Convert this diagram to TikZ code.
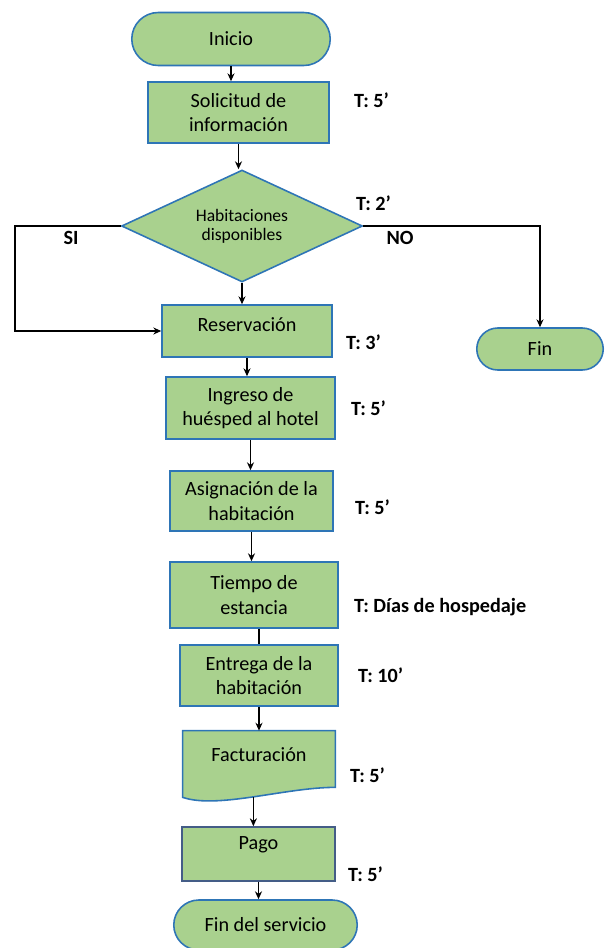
\documentclass[tikz,border=0pt]{standalone}
\usepackage{fontspec}
\setmainfont{Carlito}
\usetikzlibrary{arrows.meta, shapes.geometric, shapes.misc, backgrounds, positioning}
\definecolor{box_green}{RGB}{169,209,142}
\definecolor{box_blue}{RGB}{46,117,182}
\definecolor{pago_blue}{RGB}{68,93,135}

\begin{document}
\begin{tikzpicture}[x=0.02cm, y=-0.02cm, >={Stealth[length=4.5pt, width=4pt]},
    every node/.style={font=\fontsize{11.5}{14}\selectfont, align=center, inner sep=1pt},
    proc/.style={rectangle, draw=box_blue, fill=box_green, line width=0.9pt},
    term/.style={rounded rectangle, draw=box_blue, fill=box_green, line width=0.9pt},
    decis/.style={diamond, aspect=2.15, draw=box_blue, fill=box_green, line width=0.9pt, inner sep=0pt, font=\fontsize{10}{11}\selectfont},
    tlabel/.style={anchor=west, font=\bfseries\fontsize{11.5}{14}\selectfont},
    flow/.style={->, line width=0.8pt}]
      \useasboundingbox (0,0) rectangle (605,948);
      \clip (0,0) rectangle (605,948);
      \node[term, minimum width=4.04cm, minimum height=1.06cm] (ini) at (231,39) {Inicio};
      \node[proc, minimum width=3.62cm, minimum height=1.22cm] (sol) at (238.5,112.5) {Solicitud de\\información};
      \node[decis, minimum width=4.82cm, minimum height=2.24cm] (disp) at (242,226) {Habitaciones\\disponibles};
      \node[proc, minimum width=3.4cm, minimum height=1.04cm, text depth=7pt] (res) at (247,331) {Reservación};
      \node[term, minimum width=2.6cm, minimum height=0.84cm] (fin) at (540,349) {Fin};
      \node[proc, minimum width=3.38cm, minimum height=1.24cm] (ing) at (250.5,408) {Ingreso de\\huésped al hotel};
      \node[proc, minimum width=3.26cm, minimum height=1.2cm] (asig) at (251.5,501) {Asignación de la\\habitación};
      \node[proc, minimum width=3.36cm, minimum height=1.32cm] (est) at (254,595) {Tiempo de\\estancia};
      \node[proc, minimum width=3.16cm, minimum height=1.22cm] (ent) at (259,675.5) {Entrega de la\\habitación};
      \node[minimum width=3.04cm, minimum height=1.12cm, text depth=5pt] (fact) at (259,759) {Facturación};
      \node[proc, draw=pago_blue, minimum width=3.06cm, minimum height=1.08cm, text depth=12pt] (pago) at (258.5,854) {Pago};
      \node[term, minimum width=3.74cm, minimum height=1.0cm] (finserv) at (265.5,925) {Fin del servicio};
      % document shape behind the text
      \begin{pgfonlayer}{background}
        \draw[draw=box_blue, fill=box_green, line width=0.9pt] (fact.north west) -- (fact.north east) -- (fact.south east)
          .. controls +(-50,0) and +(35,12) .. ([yshift=-0.2cm]fact.south west) coordinate[pos=0.5] (factbot) -- cycle;
      \end{pgfonlayer}
      \coordinate (siturn) at (15,226);
      \draw[flow] (ini.south) -- (ini.south |- sol.north);
      \draw[flow] (sol.south) -- (sol.south |- disp.north);
      \draw[flow] (disp.south) -- (disp.south |- res.north);
      \draw[flow] (disp.west) -- (siturn) |- (res.west);
      \draw[flow] (disp.east) -| (fin.north);
      \draw[flow] (res.south) -- (res.south |- ing.north);
      \draw[flow] (ing.south) -- (ing.south |- asig.north);
      \draw[flow] (asig.south) -- (asig.south |- est.north);
      \draw[line width=0.8pt] (ent.north |- est.south) -- (ent.north);
      \draw[flow] (ent.south) -- (ent.south |- fact.north);
      \draw[flow] (factbot) -- (factbot |- pago.north);
      \draw[flow] (pago.south) -- (pago.south |- finserv.north);
      \node[tlabel] (t_sol) at (352,100) {T: 5’};
      \node[tlabel] (t_disp) at (354,203) {T: 2’};
      \node[tlabel] (t_res) at (344,342) {T: 3’};
      \node[tlabel] (t_ing) at (349,408) {T: 5’};
      \node[tlabel] (t_asig) at (353,507) {T: 5’};
      \node[tlabel] (t_est) at (352,607) {T: Días de hospedaje};
      \node[tlabel] (t_ent) at (356,675) {T: 10’};
      \node[tlabel] (t_fact) at (348,775) {T: 5’};
      \node[tlabel] (t_pago) at (346,874) {T: 5’};
      \node[font=\bfseries\fontsize{11.5}{14}\selectfont] (si) at (71,238) {SI};
      \node[font=\bfseries\fontsize{11.5}{14}\selectfont] (no) at (400,238) {NO};
    \end{tikzpicture}
\end{document}
